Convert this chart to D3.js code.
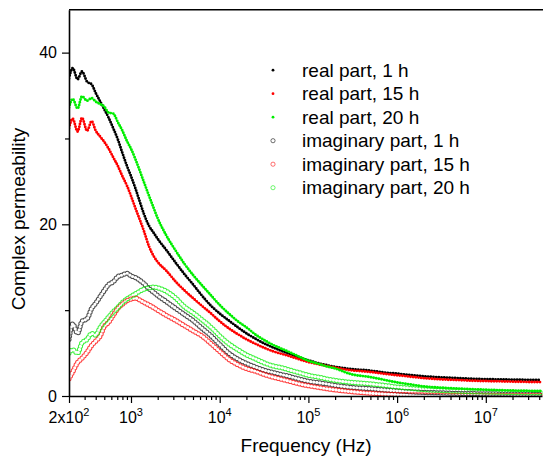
<!DOCTYPE html>
<html>
<head>
<meta charset="utf-8">
<script src="https://cdn.jsdelivr.net/npm/d3@7"></script>
<style>
  html, body { margin: 0; padding: 0; background: #fff; }
  svg { display: block; font-family: 'Liberation Sans', Arial, sans-serif; }
</style>
</head>
<body>
<div id="chart"></div>
<script>
// frequency grid (Hz) shared by all series
const freq = [200, 220, 250, 280, 320, 360, 400, 450, 500, 560,
  630, 710, 800, 900, 1000, 1120, 1250, 1400, 1600, 1800,
  2000, 2500, 3200, 4000, 5000, 6300, 8000, 10000, 13000, 16000,
  20000, 25000, 32000, 40000, 50000, 63000, 80000, 1e5, 1.3e5, 1.6e5,
  2e5, 3e5, 5e5, 7e5, 1e6, 1.5e6, 2e6, 3e6, 5e6, 7e6,
  1e7, 1.5e7, 2e7, 3e7, 4.2e7];

const real1h = [37.0, 38.2, 36.9, 37.8, 36.6, 36.3, 35.3, 34.3, 33.4, 32.4,
  31.2, 29.9, 28.3, 26.8, 25.6, 24.2, 22.7, 21.2, 19.8, 19.0,
  18.3, 17.0, 15.5, 14.2, 13.0, 11.7, 10.5, 9.6, 8.7, 8.0,
  7.3, 6.7, 6.1, 5.65, 5.25, 4.85, 4.45, 4.15, 3.8, 3.6,
  3.4, 3.15, 2.95, 2.75, 2.6, 2.42, 2.3, 2.18, 2.07, 2.0,
  1.96, 1.93, 1.9, 1.88, 1.86];

const real15h = [31.2, 32.3, 30.8, 32.4, 30.9, 32.0, 30.9, 30.2, 29.6, 28.8,
  27.8, 26.8, 25.6, 24.5, 23.3, 21.9, 20.6, 19.2, 17.4, 16.3,
  15.6, 14.6, 13.3, 12.3, 11.4, 10.5, 9.6, 8.7, 7.8, 7.2,
  6.6, 6.1, 5.6, 5.2, 4.9, 4.6, 4.25, 3.95, 3.7, 3.5,
  3.3, 3.0, 2.8, 2.6, 2.42, 2.22, 2.08, 1.95, 1.85, 1.78,
  1.74, 1.7, 1.67, 1.64, 1.62];

const real20h = [33.6, 34.6, 33.5, 34.9, 34.4, 34.7, 34.3, 34.0, 33.7, 33.0,
  32.9, 31.9, 30.9, 29.7, 28.8, 27.6, 26.3, 24.9, 23.3, 21.9,
  20.7, 18.7, 16.9, 15.4, 14.1, 12.9, 11.7, 10.6, 9.5, 8.7,
  8.0, 7.2, 6.5, 5.95, 5.5, 5.05, 4.55, 4.1, 3.75, 3.45,
  3.2, 2.55, 2.2, 1.9, 1.58, 1.3, 1.12, 0.98, 0.86, 0.79,
  0.73, 0.67, 0.64, 0.6, 0.58];

const imag1h = [6.6, 8.4, 7.3, 8.7, 9.0, 10.2, 10.8, 11.6, 12.3, 13.0,
  13.3, 13.9, 14.1, 14.3, 14.0, 13.8, 13.5, 13.1, 12.5, 12.1,
  11.7, 11.0, 10.2, 9.5, 8.8, 7.9, 7.0, 6.0, 4.9, 4.3,
  3.8, 3.4, 3.0, 2.75, 2.5, 2.25, 1.95, 1.72, 1.55, 1.42,
  1.25, 1.02, 0.85, 0.72, 0.6, 0.48, 0.42, 0.37, 0.3, 0.27,
  0.25, 0.23, 0.22, 0.21, 0.2];

const imag15h = [2.0, 2.8, 3.9, 4.4, 5.1, 5.9, 6.4, 7.0, 8.1, 8.6,
  9.4, 10.2, 10.7, 11.1, 11.3, 11.4, 11.2, 10.9, 10.6, 10.3,
  10.0, 9.4, 8.8, 8.2, 7.6, 7.0, 6.1, 5.2, 4.2, 3.65,
  3.2, 2.9, 2.5, 2.2, 1.95, 1.68, 1.4, 1.2, 1.0, 0.85,
  0.72, 0.52, 0.32, 0.24, 0.18, 0.14, 0.12, 0.1, 0.08, 0.07,
  0.06, 0.05, 0.05, 0.04, 0.04];

const imag20h = [5.0, 5.4, 5.0, 6.2, 6.6, 7.3, 7.1, 8.0, 8.6, 9.2,
  9.8, 10.3, 10.9, 11.3, 11.6, 11.9, 12.2, 12.45, 12.6, 12.7,
  12.6, 12.2, 11.4, 10.4, 9.7, 8.9, 8.0, 7.0, 6.0, 5.4,
  4.8, 4.35, 3.85, 3.5, 3.3, 3.0, 2.7, 2.42, 2.2, 2.0,
  1.82, 1.6, 1.42, 1.25, 1.05, 0.88, 0.75, 0.65, 0.56, 0.51,
  0.47, 0.43, 0.41, 0.39, 0.38];

const yTicks = [0, 20, 40];
const yMinorTicks = [10, 30];
const xTickValues = [200, 1e3, 1e4, 1e5, 1e6, 1e7];
const xTickBases = ['2x10', '10', '10', '10', '10', '10'];
const xTickExps = ['2', '3', '4', '5', '6', '7'];

const seriesNames = ['real part, 1 h', 'real part, 15 h', 'real part, 20 h',
  'imaginary part, 1 h', 'imaginary part, 15 h', 'imaginary part, 20 h'];
const seriesValues = [real1h, real15h, real20h, imag1h, imag15h, imag20h];
const seriesColors = ['#000000', '#ff0000', '#00ee00', '#000000', '#ff0000', '#00ee00'];

const width = 543;
const height = 461;
const plot = { left: 69, right: 542, top: 9.7, bottom: 396 };

const svg = d3
  .select('#chart')
  .append('svg')
  .attr('width', width)
  .attr('height', height);

const x = d3.scaleLog().domain([200, 4.3e7]).range([plot.left, plot.right]);
const y = d3.scaleLinear().domain([0, 45]).range([plot.bottom, plot.top]);

const defs = svg.append('defs');
defs
  .append('clipPath')
  .attr('id', 'plot-clip')
  .append('rect')
  .attr('x', plot.left + 0.5)
  .attr('y', plot.top)
  .attr('width', plot.right - plot.left)
  .attr('height', plot.bottom - plot.top);

const line = d3
  .line()
  .x((d) => x(d[0]))
  .y((d) => y(d[1]))
  .curve(d3.curveMonotoneX);

const pts = (vals) => freq.map((f, i) => [f, vals[i]]);

const marks = svg.append('g').attr('clip-path', 'url(#plot-clip)');

// imaginary parts: chains of open circles (ring = thick dotted stroke minus inner dotted stroke)
[3, 4, 5].forEach((k) => {
  const d = line(pts(seriesValues[k]));
  const mask = defs
    .append('mask')
    .attr('id', `ring-${k}`)
    .attr('maskUnits', 'userSpaceOnUse')
    .attr('x', 0)
    .attr('y', 0)
    .attr('width', width)
    .attr('height', height);
  mask.append('rect').attr('width', width).attr('height', height).attr('fill', '#fff');
  mask
    .append('path')
    .attr('d', d)
    .attr('fill', 'none')
    .attr('stroke', '#000')
    .attr('stroke-width', 3.2)
    .attr('stroke-linecap', 'round')
    .attr('stroke-dasharray', '0 3.1');
  marks
    .append('path')
    .attr('d', d)
    .attr('fill', 'none')
    .attr('stroke', seriesColors[k])
    .attr('stroke-opacity', k === 3 ? 0.7 : 0.75)
    .attr('stroke-width', 5.2)
    .attr('stroke-linecap', 'round')
    .attr('stroke-dasharray', '0 3.1')
    .attr('mask', `url(#ring-${k})`);
});

// real parts: filled dots
[0, 1, 2].forEach((k) => {
  marks
    .append('path')
    .attr('d', line(pts(seriesValues[k])))
    .attr('fill', 'none')
    .attr('stroke', seriesColors[k])
    .attr('stroke-width', 2.9)
    .attr('stroke-linecap', 'round')
    .attr('stroke-dasharray', '0 2.7');
});

// axes
const minorX = x.ticks().filter((t) => !xTickValues.includes(t) && t > 200);

const xMinorAxis = svg
  .append('g')
  .attr('transform', `translate(0, ${plot.bottom})`)
  .call(d3.axisBottom(x).tickValues(minorX).tickSize(4).tickSizeOuter(0).tickFormat(''));
xMinorAxis.select('.domain').remove();

const xAxis = svg
  .append('g')
  .attr('transform', `translate(0, ${plot.bottom})`)
  .call(d3.axisBottom(x).tickValues(xTickValues).tickSize(7).tickSizeOuter(0).tickFormat(''));

const yMinorAxis = svg
  .append('g')
  .attr('transform', `translate(${plot.left}, 0)`)
  .call(d3.axisLeft(y).tickValues(yMinorTicks).tickSize(4).tickSizeOuter(0).tickFormat(''));
yMinorAxis.select('.domain').remove();

const yAxis = svg
  .append('g')
  .attr('transform', `translate(${plot.left}, 0)`)
  .call(d3.axisLeft(y).tickValues(yTicks).tickSize(7).tickSizeOuter(0).tickFormat(''));

svg.selectAll('.tick line').attr('stroke', '#000').attr('stroke-width', 1.2);
svg.selectAll('.domain').attr('stroke', '#000').attr('stroke-width', 1.6);

// top frame line
svg
  .append('line')
  .attr('x1', plot.left)
  .attr('x2', plot.right + 1)
  .attr('y1', plot.top)
  .attr('y2', plot.top)
  .attr('stroke', '#000')
  .attr('stroke-width', 1.6);

// tick labels
const xLab = svg
  .append('g')
  .selectAll('text')
  .data(xTickValues)
  .enter()
  .append('text')
  .attr('x', (d) => x(d))
  .attr('y', 423)
  .attr('text-anchor', 'middle')
  .style('font-size', '16px')
  .attr('fill', '#000');
xLab.append('tspan').text((d, i) => xTickBases[i]);
xLab
  .append('tspan')
  .attr('dy', -7)
  .style('font-size', '11px')
  .text((d, i) => xTickExps[i]);

svg
  .append('g')
  .selectAll('text')
  .data(yTicks)
  .enter()
  .append('text')
  .attr('x', plot.left - 12)
  .attr('y', (d) => y(d))
  .attr('dy', '0.36em')
  .attr('text-anchor', 'end')
  .style('font-size', '16px')
  .text((d) => d);

// axis titles
svg
  .append('text')
  .attr('x', 306)
  .attr('y', 452)
  .attr('text-anchor', 'middle')
  .style('font-size', '19px')
  .text('Frequency (Hz)');

svg
  .append('text')
  .attr('transform', 'translate(25, 219) rotate(-90)')
  .attr('text-anchor', 'middle')
  .style('font-size', '19px')
  .text('Complex permeability');

// legend
const legend = svg
  .append('g')
  .selectAll('g')
  .data(seriesNames)
  .enter()
  .append('g')
  .attr('transform', (d, i) => `translate(273, ${76.7 + i * 23.5})`);

legend
  .append('circle')
  .attr('cx', 0)
  .attr('cy', -6.5)
  .attr('r', (d, i) => (i < 3 ? 1.4 : 2.1))
  .attr('fill', (d, i) => (i < 3 ? seriesColors[i] : 'none'))
  .attr('stroke', (d, i) => (i < 3 ? 'none' : seriesColors[i]))
  .attr('stroke-opacity', 0.7)
  .attr('stroke-width', 0.8);

legend
  .append('text')
  .attr('x', 29)
  .attr('y', 0)
  .style('font-size', '19px')
  .text((d) => d);
</script>
</body>
</html>
